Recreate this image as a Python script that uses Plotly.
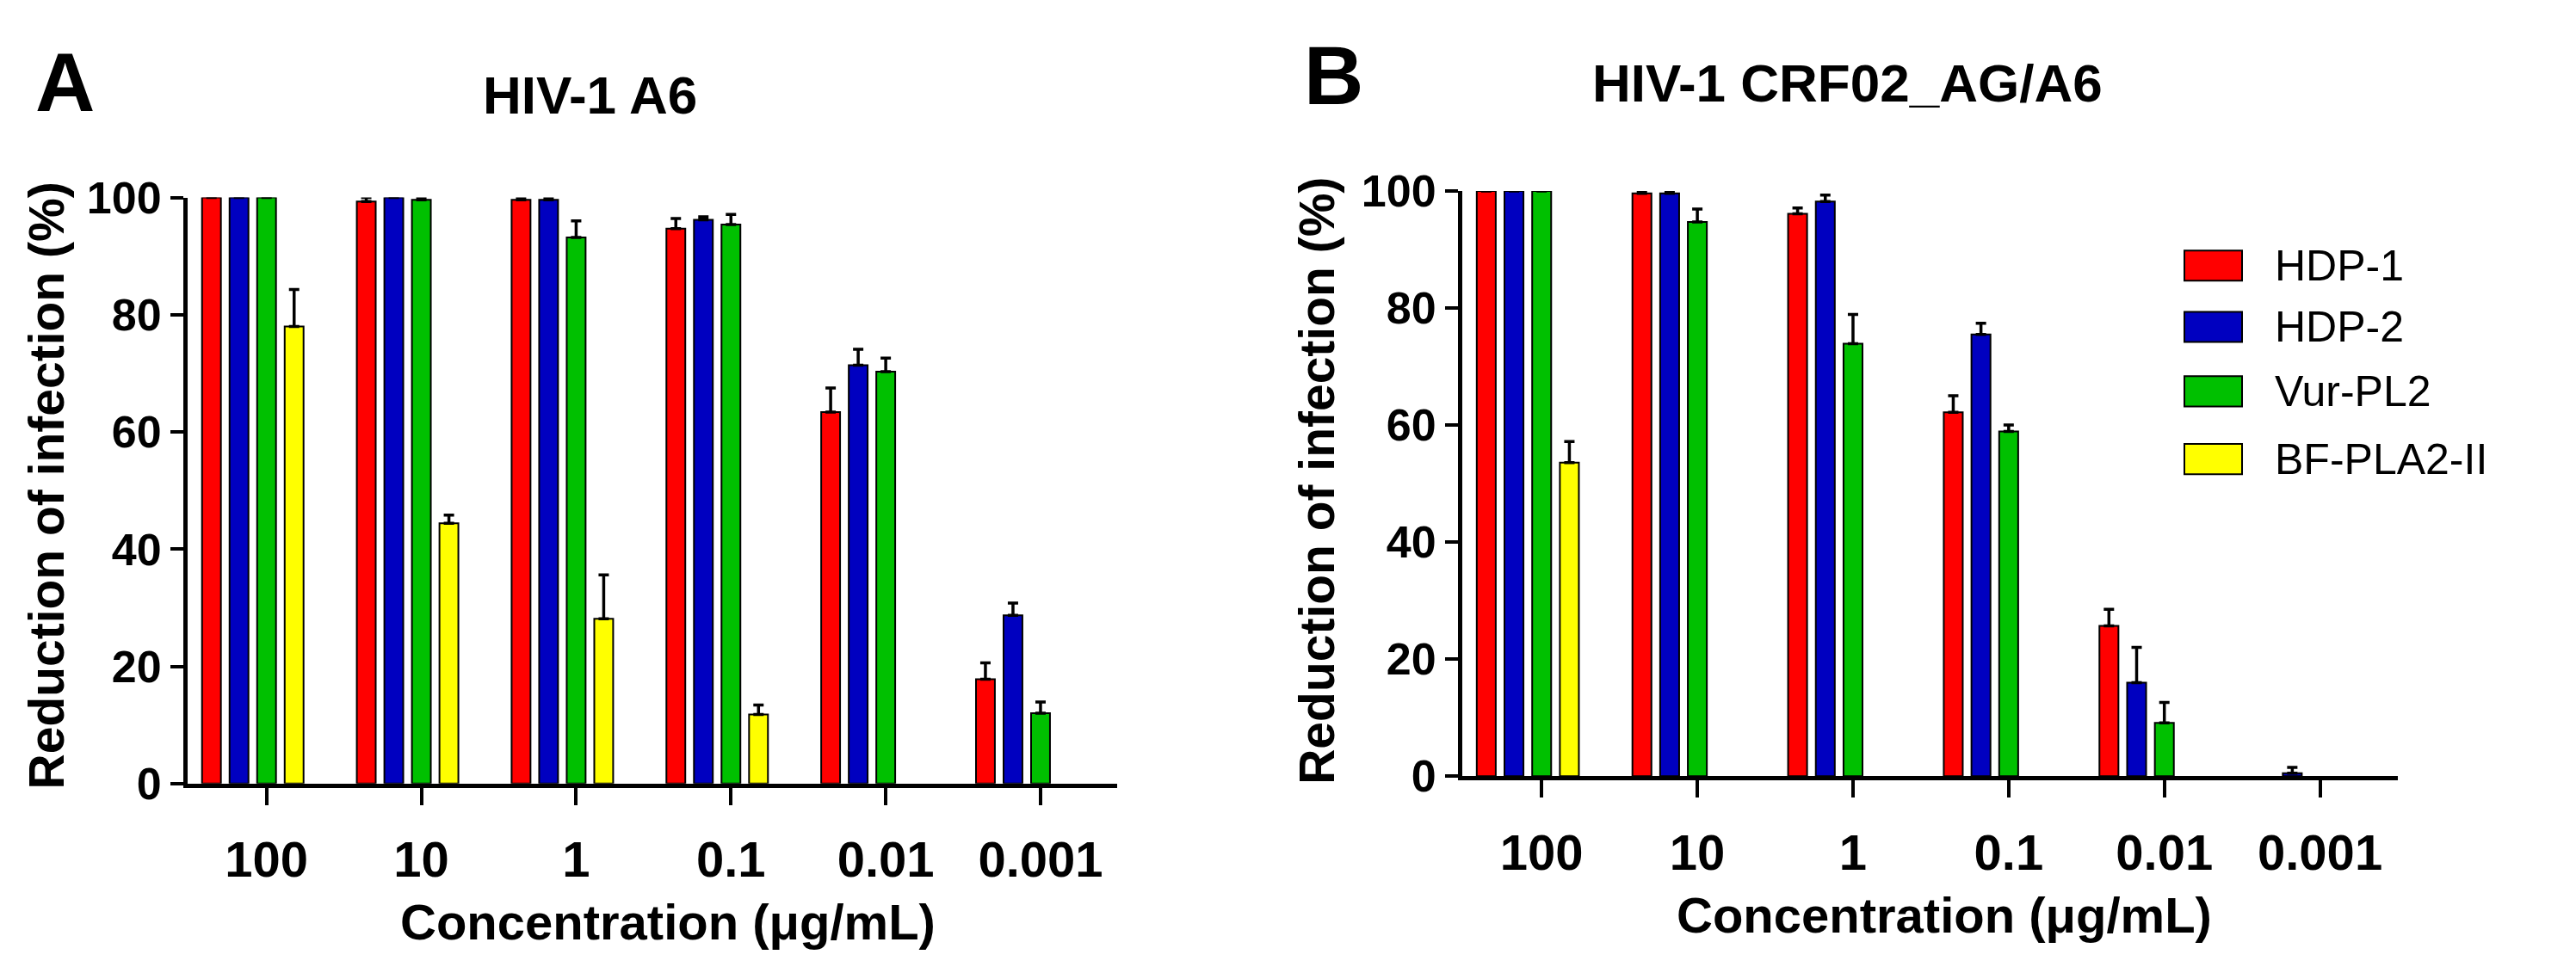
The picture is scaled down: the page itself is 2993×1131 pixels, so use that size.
import plotly.graph_objects as go

concentrations = ["100", "10", "1", "0.1", "0.01", "0.001"]
series_names = ["HDP-1", "HDP-2", "Vur-PL2", "BF-PLA2-II"]
series_colors = ["#FF0000", "#0000C0", "#00C000", "#FFFF00"]

# Panel A: HIV-1 A6
a_hdp1 = [100, 99.3, 99.6, 94.7, 63.4, 17.8]
a_hdp1_err = [None, 0.7, 0.4, 1.7, 4.1, 2.8]
a_hdp2 = [100, 100, 99.6, 96.2, 71.4, 28.7]
a_hdp2_err = [None, None, 0.4, 0.5, 2.7, 2.1]
a_vur = [100, 99.6, 93.2, 95.4, 70.3, 12.0]
a_vur_err = [None, 0.4, 2.8, 1.7, 2.3, 1.9]
a_bf = [78.0, 44.4, 28.1, 11.8, None, None]
a_bf_err = [6.3, 1.4, 7.5, 1.6, None, None]

# Panel B: HIV-1 CRF02_AG/A6
b_hdp1 = [100, 99.6, 96.1, 62.2, 25.7, None]
b_hdp1_err = [None, 0.4, 1.0, 2.8, 2.8, None]
b_hdp2 = [100, 99.6, 98.2, 75.5, 16.0, 0.5]
b_hdp2_err = [None, 0.4, 1.1, 1.9, 6.0, 1.0]
b_vur = [100, 94.7, 73.9, 58.9, 9.1, None]
b_vur_err = [None, 2.2, 5.0, 1.1, 3.5, None]
b_bf = [53.6, None, None, None, None, None]
b_bf_err = [3.6, None, None, None, None, None]

panel_titles = ["HIV-1 A6", "HIV-1 CRF02_AG/A6"]
panel_letters = ["A", "B"]
x_title = "Concentration (μg/mL)"
y_title = "Reduction of infection (%)"
y_ticks = [0, 20, 40, 60, 80, 100]

FONT = "Liberation Sans, Arial, sans-serif"
W, H = 2993, 1131

BAR_W = 0.122
BAR_STEP = 0.178

panels = [
    ([a_hdp1, a_hdp2, a_vur, a_bf], [a_hdp1_err, a_hdp2_err, a_vur_err, a_bf_err], "x", "y"),
    ([b_hdp1, b_hdp2, b_vur, b_bf], [b_hdp1_err, b_hdp2_err, b_vur_err, b_bf_err], "x2", "y2"),
]

fig = go.Figure()
for vals_list, errs_list, xa, ya in panels:
    for i, (vals, errs) in enumerate(zip(vals_list, errs_list)):
        fig.add_trace(go.Bar(
            x=concentrations, y=vals, name=series_names[i],
            xaxis=xa, yaxis=ya,
            width=BAR_W, offset=(i - 2) * BAR_STEP - BAR_W / 2,
            marker=dict(color=series_colors[i], line=dict(color="black", width=2)),
            error_y=dict(type="data", symmetric=False, array=errs,
                         arrayminus=[0 if e is not None else None for e in errs],
                         color="black", thickness=3.5, width=6),
            showlegend=False,
        ))

def px_x(p):
    return p / W

def px_y(p):
    return 1 - p / H

xdoms = [[px_x(210), px_x(1290)], [px_x(1691), px_x(2778)]]
ydoms = [[px_y(921), px_y(203)], [px_y(912), px_y(195)]]
xranges = [[-0.51, 5.495], [-0.51, 5.50]]

common_x = dict(type="category", showline=True, linecolor="black", linewidth=5,
                ticks="outside", ticklen=20, tickwidth=4, tickcolor="black",
                ticklabelstandoff=14,
                tickfont=dict(family=FONT, size=58, color="black", weight="bold"),
                showgrid=False, zeroline=False, fixedrange=True)
common_y = dict(range=[0, 100], tickvals=y_ticks, showline=True, linecolor="black",
                linewidth=5, ticks="outside", ticklen=15, tickwidth=4, tickcolor="black",
                tickfont=dict(family=FONT, size=52, color="black", weight="bold"),
                showgrid=False, zeroline=False)

fig.update_layout(
    xaxis=dict(common_x, domain=xdoms[0], range=xranges[0], anchor="y"),
    yaxis=dict(common_y, domain=ydoms[0], anchor="x"),
    xaxis2=dict(common_x, domain=xdoms[1], range=xranges[1], anchor="y2"),
    yaxis2=dict(common_y, domain=ydoms[1], anchor="x2"),
    barmode="overlay",
    width=W, height=H,
    margin=dict(l=0, r=0, t=0, b=0),
    paper_bgcolor="white", plot_bgcolor="white",
    showlegend=False,
)

ann = []
# panel letters
ann.append(dict(x=px_x(67), y=px_y(62), text=panel_letters[0], font=dict(size=96, weight="bold")))
ann.append(dict(x=px_x(1541), y=px_y(53), text=panel_letters[1], font=dict(size=96, weight="bold")))
# titles
ann.append(dict(x=px_x(677), y=px_y(77), text=panel_titles[0], font=dict(size=62, weight="bold")))
ann.append(dict(x=px_x(2138), y=px_y(63), text=panel_titles[1], font=dict(size=62, weight="bold")))
# axis titles
ann.append(dict(x=px_x(768), y=px_y(1090), text=x_title, font=dict(size=58, weight="bold")))
ann.append(dict(x=px_x(2251), y=px_y(1082), text=x_title, font=dict(size=58, weight="bold")))
ann.append(dict(x=px_x(46), y=px_y(556), text=y_title, textangle=-90, font=dict(size=57, weight="bold")))
ann.append(dict(x=px_x(1522), y=px_y(550), text=y_title, textangle=-90, font=dict(size=57, weight="bold")))

shapes = []
leg_top = [268, 343, 422, 505]
for i, name in enumerate(series_names):
    t = leg_top[i]
    shapes.append(dict(type="rect", xref="paper", yref="paper",
                       x0=px_x(2530), x1=px_x(2597), y0=px_y(t + 37), y1=px_y(t),
                       fillcolor=series_colors[i], line=dict(color="black", width=2)))
    ann.append(dict(x=px_x(2633), y=px_y(t + 19), text=name, xanchor="left",
                    font=dict(size=50)))

for a in ann:
    a.setdefault("xanchor", "center")
    a.update(xref="paper", yref="paper", yanchor="middle", showarrow=False)
    a["font"] = dict(a["font"], family=FONT, color="black")

fig.update_layout(annotations=ann, shapes=shapes)
fig.write_html("out.html")
